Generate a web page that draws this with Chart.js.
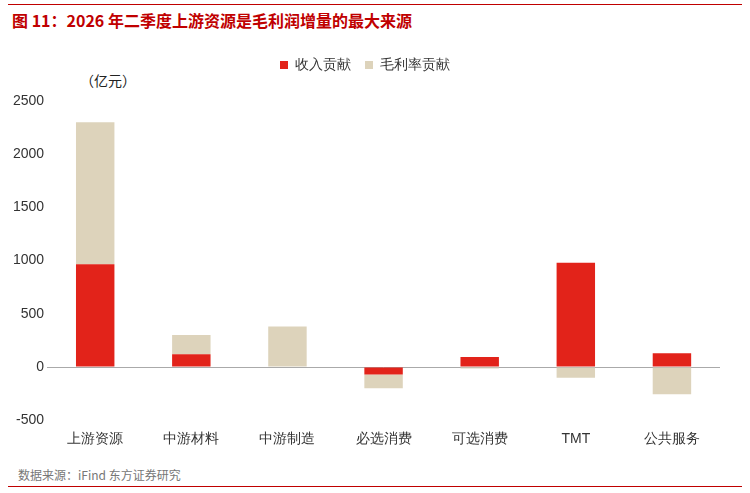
<!DOCTYPE html>
<html><head><meta charset="utf-8">
<script src="https://cdn.jsdelivr.net/npm/chart.js@4"></script>
<style>
body{margin:0;width:750px;height:493px;background:#fff;font-family:"Noto Sans CJK SC","Noto Sans",sans-serif;position:relative;overflow:hidden}
#topline{position:absolute;left:8px;right:8px;top:4px;border-top:1px solid #c00000}
#title{position:absolute;left:12px;top:8px;font-size:16px;font-weight:bold;color:#c00000}
#unit{position:absolute;left:80px;top:70px;font-size:14px;color:#222}
#src{position:absolute;left:18px;top:466px;font-size:12px;color:#777}
#botline{position:absolute;left:8px;right:8px;top:486px;border-top:1px solid #c00000}
#wrap{position:absolute;left:0;top:44px;width:730px;height:407px}
</style></head><body>
<div id="topline"></div>
<div id="title">图 11：2026 年二季度上游资源是毛利润增量的最大来源</div>
<div id="unit">（亿元）</div>
<div id="wrap"><canvas id="c"></canvas></div>
<div id="src">数据来源：iFind 东方证券研究</div>
<div id="botline"></div>
<script>
const categories = ['上游资源','中游材料','中游制造','必选消费','可选消费','TMT','公共服务'];
const revenue = [965, 120, 0, -70, 95, 980, 130];
const margin = [1335, 180, 380, -130, -15, -100, -255];

const legendSpace = {
  id: 'legendSpace',
  beforeInit(chart) {
    const orig = chart.legend.fit;
    chart.legend.fit = function () { orig.bind(chart.legend)(); this.height += 19; };
  },
};

new Chart(document.getElementById('c'), {
  type: 'bar',
  data: {
    labels: categories,
    datasets: [
      { label: '收入贡献', data: revenue, backgroundColor: '#e2231a', barPercentage: 0.4, categoryPercentage: 1 },
      { label: '毛利率贡献', data: margin, backgroundColor: '#ddd3bb', barPercentage: 0.4, categoryPercentage: 1 },
    ],
  },
  plugins: [legendSpace],
  options: {
    responsive: true,
    maintainAspectRatio: false,
    animation: false,
    layout: { padding: { left: 10, right: 10, top: 0, bottom: 0 } },
    plugins: {
      legend: {
        position: 'top',
        labels: { boxWidth: 8, boxHeight: 8, padding: 14, color: '#333', font: { size: 14 } },
      },
      tooltip: { enabled: false },
    },
    scales: {
      x: {
        stacked: true,
        grid: { display: false },
        border: { display: false },
        ticks: { color: '#333', font: { size: 14 } },
      },
      y: {
        stacked: true,
        min: -500, max: 2500,
        ticks: { stepSize: 500, color: '#333', font: { size: 14 }, callback: v => String(v) },
        grid: { color: c => c.tick.value === 0 ? '#aaa' : 'transparent', drawTicks: false },
        border: { display: false },
      },
    },
  },
});
</script>
</body></html>
